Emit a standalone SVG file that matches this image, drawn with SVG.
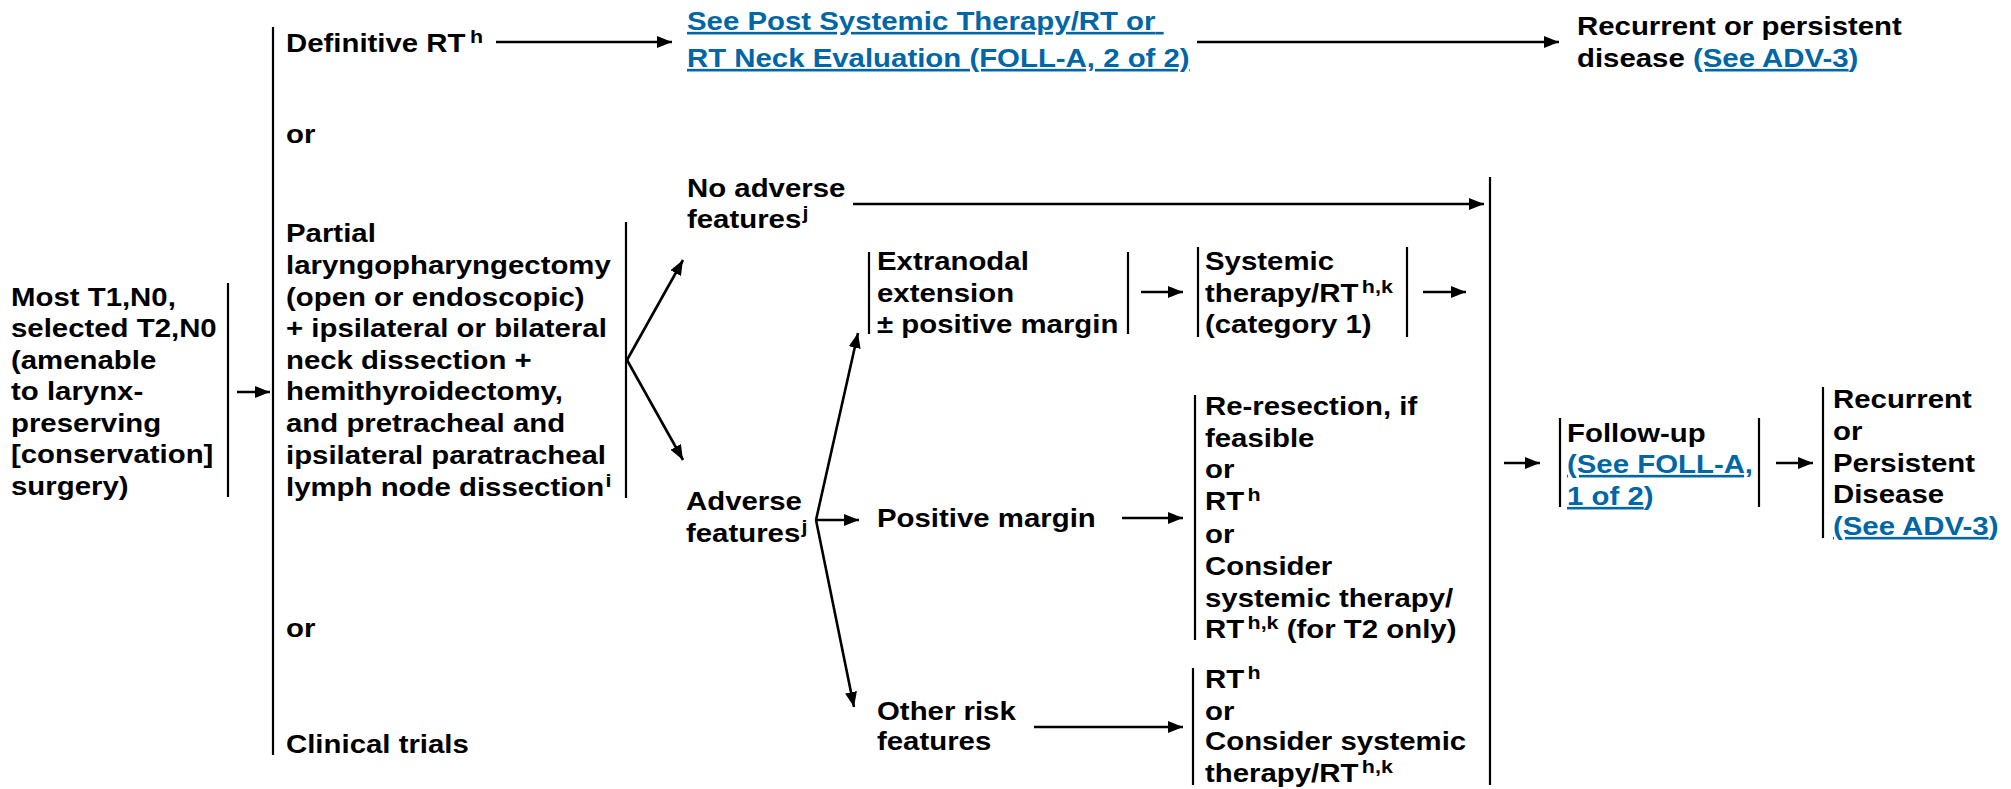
<svg xmlns="http://www.w3.org/2000/svg" width="2011" height="789" viewBox="0 0 2011 789">
  <defs>
    <style>
      .t { font-family: "Liberation Sans", Arial, Helvetica, sans-serif; font-weight: bold; font-size: 26px; fill: #000; }
      .lk { fill: #0066a6; }
      .ul { text-decoration: underline; }
      .sup { font-size: 19px; }
      .bar { stroke: #000; stroke-width: 2.2; fill: none; }
      .arr { stroke: #000; stroke-width: 2.6; fill: none; marker-end: url(#head); }
    </style>
    <marker id="head" markerUnits="userSpaceOnUse" markerWidth="16" markerHeight="13" refX="15" refY="6.5" orient="auto">
      <path d="M0,0.5 L15,6.5 L0,12.5 z" fill="#000"/>
    </marker>
  </defs>

  <rect width="2011" height="789" fill="#fff"/>

  <!-- connectors -->
  <g id="connectors">
    <line class="arr" x1="496" y1="42" x2="672" y2="42"/>
    <line class="arr" x1="1197" y1="42" x2="1559" y2="42"/>
    <line class="arr" x1="237" y1="392" x2="270" y2="392"/>
    <line class="arr" x1="627" y1="360" x2="683" y2="260"/>
    <line class="arr" x1="627" y1="360" x2="683" y2="460"/>
    <line class="arr" x1="853" y1="204" x2="1484" y2="204"/>
    <line class="arr" x1="816" y1="520" x2="858" y2="333"/>
    <line class="arr" x1="816" y1="520" x2="859" y2="520"/>
    <line class="arr" x1="816" y1="520" x2="854" y2="707"/>
    <line class="arr" x1="1141" y1="292" x2="1183" y2="292"/>
    <line class="arr" x1="1423" y1="292" x2="1466" y2="292"/>
    <line class="arr" x1="1122" y1="518" x2="1183" y2="518"/>
    <line class="arr" x1="1034" y1="727" x2="1183" y2="727"/>
    <line class="arr" x1="1504" y1="463" x2="1540" y2="463"/>
    <line class="arr" x1="1776" y1="463" x2="1813" y2="463"/>
  </g>

  <!-- initial presentation -->
  <g id="presentation">
    <line class="bar" x1="228" y1="283" x2="228" y2="497"/>
    <text class="t" transform="matrix(1.13 0 0 1 11 0)">
      <tspan x="0" y="306">Most T1,N0,</tspan>
      <tspan x="0" y="337.5">selected T2,N0</tspan>
      <tspan x="0" y="369">(amenable</tspan>
      <tspan x="0" y="400.5">to larynx-</tspan>
      <tspan x="0" y="432">preserving</tspan>
      <tspan x="0" y="463.5">[conservation]</tspan>
      <tspan x="0" y="495">surgery)</tspan>
    </text>
  </g>

  <!-- primary treatment options -->
  <g id="primary-treatment">
    <line class="bar" x1="273" y1="27" x2="273" y2="755"/>
    <line class="bar" x1="626" y1="222" x2="626" y2="498"/>
    <text class="t" transform="matrix(1.13 0 0 1 286 0)">
      <tspan x="0" y="52">Definitive RT<tspan class="sup" dx="4" dy="-9">h</tspan></tspan>
      <tspan x="0" y="143">or</tspan>
      <tspan x="0" y="242">Partial</tspan>
      <tspan x="0" y="274">laryngopharyngectomy</tspan>
      <tspan x="0" y="306">(open or endoscopic)</tspan>
      <tspan x="0" y="337">+ ipsilateral or bilateral</tspan>
      <tspan x="0" y="369">neck dissection +</tspan>
      <tspan x="0" y="400">hemithyroidectomy,</tspan>
      <tspan x="0" y="432">and pretracheal and</tspan>
      <tspan x="0" y="464">ipsilateral paratracheal</tspan>
      <tspan x="0" y="496">lymph node dissection<tspan class="sup" dx="1" dy="-9">i</tspan></tspan>
      <tspan x="0" y="637">or</tspan>
      <tspan x="0" y="753">Clinical trials</tspan>
    </text>
  </g>

  <!-- post RT evaluation link -->
  <g id="post-rt-evaluation">
    <text class="t lk ul" transform="matrix(1.13 0 0 1 687 0)">
      <tspan x="0" y="30">See Post Systemic Therapy/RT or</tspan>
      <tspan x="0" y="67">RT Neck Evaluation (FOLL-A, 2 of 2)</tspan>
    </text>
  </g>

  <!-- recurrent disease after definitive RT -->
  <g id="recurrent-top">
    <text class="t" transform="matrix(1.13 0 0 1 1577 0)">
      <tspan x="0" y="35">Recurrent or persistent</tspan>
      <tspan x="0" y="67">disease <tspan class="lk ul">(See ADV-3</tspan><tspan class="lk">)</tspan></tspan>
    </text>
  </g>

  <!-- no adverse features -->
  <g id="no-adverse">
    <text class="t" transform="matrix(1.13 0 0 1 687 0)">
      <tspan x="0" y="197">No adverse</tspan>
      <tspan x="0" y="228">features<tspan class="sup" dx="1" dy="-9">j</tspan></tspan>
    </text>
  </g>

  <!-- adverse features -->
  <g id="adverse">
    <text class="t" transform="matrix(1.13 0 0 1 686 0)">
      <tspan x="0" y="510">Adverse</tspan>
      <tspan x="0" y="542">features<tspan class="sup" dx="1" dy="-9">j</tspan></tspan>
    </text>
  </g>

  <!-- extranodal extension -->
  <g id="extranodal">
    <line class="bar" x1="869" y1="252" x2="869" y2="334"/>
    <line class="bar" x1="1128" y1="252" x2="1128" y2="334"/>
    <text class="t" transform="matrix(1.13 0 0 1 877 0)">
      <tspan x="0" y="270">Extranodal</tspan>
      <tspan x="0" y="302">extension</tspan>
      <tspan x="0" y="333">± positive margin</tspan>
    </text>
  </g>

  <!-- systemic therapy / RT -->
  <g id="systemic-rt">
    <line class="bar" x1="1198" y1="247" x2="1198" y2="337"/>
    <line class="bar" x1="1407" y1="247" x2="1407" y2="337"/>
    <text class="t" transform="matrix(1.13 0 0 1 1205 0)">
      <tspan x="0" y="270">Systemic</tspan>
      <tspan x="0" y="302">therapy/RT<tspan class="sup" dx="3" dy="-9">h,k</tspan></tspan>
      <tspan x="0" y="333">(category 1)</tspan>
    </text>
  </g>

  <!-- positive margin -->
  <g id="positive-margin">
    <text class="t" transform="matrix(1.13 0 0 1 877 0)">
      <tspan x="0" y="527">Positive margin</tspan>
    </text>
  </g>

  <!-- re-resection options -->
  <g id="re-resection">
    <line class="bar" x1="1195" y1="395" x2="1195" y2="640"/>
    <text class="t" transform="matrix(1.13 0 0 1 1205 0)">
      <tspan x="0" y="415">Re-resection, if</tspan>
      <tspan x="0" y="447">feasible</tspan>
      <tspan x="0" y="478">or</tspan>
      <tspan x="0" y="510">RT<tspan class="sup" dx="3" dy="-9">h</tspan></tspan>
      <tspan x="0" y="543">or</tspan>
      <tspan x="0" y="575">Consider</tspan>
      <tspan x="0" y="607">systemic therapy/</tspan>
      <tspan x="0" y="638">RT<tspan class="sup" dx="3" dy="-9">h,k</tspan><tspan dy="9"> (for T2 only)</tspan></tspan>
    </text>
  </g>

  <!-- other risk features -->
  <g id="other-risk">
    <text class="t" transform="matrix(1.13 0 0 1 877 0)">
      <tspan x="0" y="720">Other risk</tspan>
      <tspan x="0" y="750">features</tspan>
    </text>
  </g>

  <!-- RT or systemic therapy -->
  <g id="rt-options">
    <line class="bar" x1="1193" y1="668" x2="1193" y2="785"/>
    <text class="t" transform="matrix(1.13 0 0 1 1205 0)">
      <tspan x="0" y="688">RT<tspan class="sup" dx="3" dy="-9">h</tspan></tspan>
      <tspan x="0" y="720">or</tspan>
      <tspan x="0" y="750">Consider systemic</tspan>
      <tspan x="0" y="782">therapy/RT<tspan class="sup" dx="3" dy="-9">h,k</tspan></tspan>
    </text>
  </g>

  <!-- collector bar -->
  <g id="collector">
    <line class="bar" x1="1490" y1="177" x2="1490" y2="785"/>
  </g>

  <!-- follow-up -->
  <g id="follow-up">
    <line class="bar" x1="1560" y1="418" x2="1560" y2="507"/>
    <line class="bar" x1="1759" y1="418" x2="1759" y2="507"/>
    <text class="t" transform="matrix(1.13 0 0 1 1567 0)">
      <tspan x="0" y="442">Follow-up</tspan>
      <tspan x="0" y="473" class="lk ul">(See FOLL-A,</tspan>
      <tspan x="0" y="505"><tspan class="lk ul">1 of 2</tspan><tspan class="lk">)</tspan></tspan>
    </text>
  </g>

  <!-- recurrent or persistent disease -->
  <g id="recurrent">
    <line class="bar" x1="1823" y1="387" x2="1823" y2="538"/>
    <text class="t" transform="matrix(1.13 0 0 1 1833 0)">
      <tspan x="0" y="408">Recurrent</tspan>
      <tspan x="0" y="440">or</tspan>
      <tspan x="0" y="472">Persistent</tspan>
      <tspan x="0" y="503">Disease</tspan>
      <tspan x="0" y="535"><tspan class="lk ul">(See ADV-3</tspan><tspan class="lk">)</tspan></tspan>
    </text>
  </g>
</svg>
